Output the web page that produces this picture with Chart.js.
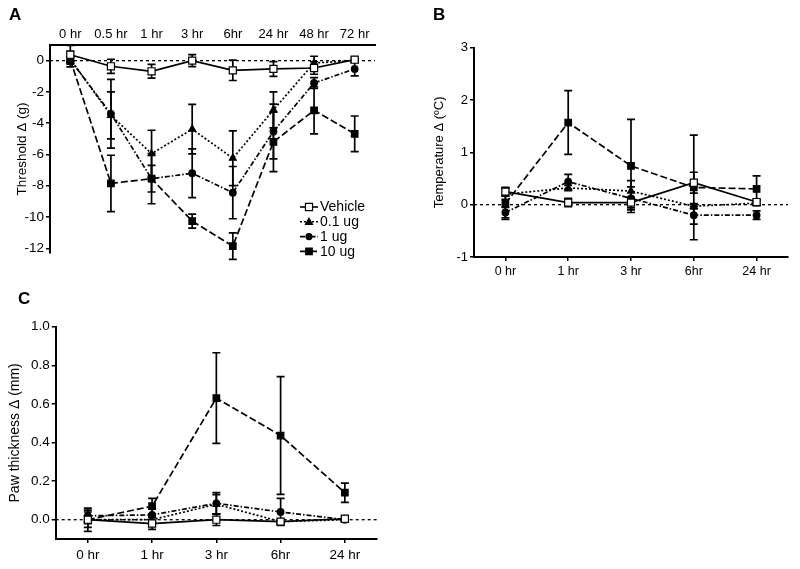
<!DOCTYPE html>
<html>
<head>
<meta charset="utf-8">
<script src="https://cdn.jsdelivr.net/npm/chart.js"></script>
<style>
  body { margin: 0; background: #fff; }
  #wrap { position: relative; width: 800px; height: 569px; font-family: "Liberation Sans", Arial, sans-serif; }
  canvas { position: absolute; }
  .tag { position: absolute; font-weight: bold; font-size: 17px; }
</style>
</head>
<body>
<div id="wrap">
  <canvas id="chartA" width="400" height="280" style="left:0;top:0"></canvas>
  <canvas id="chartB" width="400" height="280" style="left:400px;top:0"></canvas>
  <canvas id="chartC" width="400" height="289" style="left:0;top:280px"></canvas>
  <div class="tag" style="left:9px;top:5px">A</div>
  <div class="tag" style="left:433px;top:5px">B</div>
  <div class="tag" style="left:18px;top:289px">C</div>
</div>
<script>
// dati
const groups = ["Vehicle", "0.1 ug", "1 ug", "10 ug"];
const timesA = ["0 hr", "0.5 hr", "1 hr", "3 hr", "6hr", "24 hr", "48 hr", "72 hr"];
const timesBC = ["0 hr", "1 hr", "3 hr", "6hr", "24 hr"];

// A - soglia
const vehicleA = [0.38, -0.36, -0.68, 0.0, -0.62, -0.53, -0.47, 0.06];
const vehicleAErr = [0.6, 0.45, 0.44, 0.38, 0.65, 0.47, 0.4, 0.15];
const lowA = [0.1, -3.5, -5.95, -4.38, -6.24, -3.15, -0.15, 0.0];
const lowAErr = [0.5, 1.5, 1.5, 1.58, 1.75, 1.15, 0.43, 0.1];
const midA = [0.05, -3.4, -7.55, -7.2, -8.44, -4.53, -1.43, -0.53];
const midAErr = [0.2, 2.2, 0.85, 1.56, 1.67, 1.75, 0.35, 0.45];
const highA = [0.05, -7.85, -7.55, -10.26, -11.86, -5.2, -3.18, -4.68];
const highAErr = [0.15, 1.8, 1.6, 0.45, 0.85, 1.9, 1.5, 1.14];
const ticksA = [0, -2, -4, -6, -8, -10, -12];

// B - temperatura
const vehicleB = [0.25, 0.04, 0.04, 0.42, 0.05];
const vehicleBErr = [0.08, 0.08, 0.1, 0.2, 0.05];
const lowB = [0.2, 0.32, 0.26, -0.03, 0.03];
const lowBErr = [0.1, 0.05, 0.2, 0.05, 0.05];
const midB = [-0.15, 0.44, 0.12, -0.2, -0.2];
const midBErr = [0.1, 0.14, 0.22, 0.17, 0.08];
const highB = [0.02, 1.57, 0.74, 0.33, 0.3];
const highBErr = [0.3, 0.61, 0.89, 1.0, 0.25];
const ticksB = [-1, 0, 1, 2, 3];

// C - spessore zampa
const vehicleC = [0.0, -0.02, 0.0, -0.01, 0.005];
const vehicleCErr = [0.06, 0.03, 0.03, 0.01, 0.015];
const lowC = [0.0, 0.0, 0.08, -0.01, 0.0];
const lowCErr = [0.04, 0.02, 0.05, 0.01, 0.01];
const midC = [0.02, 0.025, 0.085, 0.04, 0.0];
const midCErr = [0.03, 0.03, 0.055, 0.07, 0.01];
const highC = [0.0, 0.07, 0.63, 0.436, 0.14];
const highCErr = [0.02, 0.04, 0.235, 0.305, 0.05];
const ticksC = [0, 0.2, 0.4, 0.6, 0.8, 1.0];

const FONT = '"Liberation Sans", Arial, sans-serif';

// stile di ogni gruppo
const styles = [
  { dash: [], point: "rect", fill: "#fff", r: 5 },
  { dash: [2, 2], point: "triangle", fill: "#000", r: 4 },
  { dash: [5, 2, 1.5, 2], point: "circle", fill: "#000", r: 3.3 },
  { dash: [7, 3], point: "rect", fill: "#000", r: 4.6 },
];

// barre di errore (sotto i punti)
const errorBars = {
  id: "errorBars",
  beforeDatasetsDraw(chart) {
    const ctx = chart.ctx;
    const y = chart.scales.y;
    // linea tratteggiata sullo zero
    const y0 = y.getPixelForValue(0);
    ctx.save();
    ctx.strokeStyle = "#000";
    ctx.lineWidth = 1.3;
    ctx.setLineDash([3, 3]);
    ctx.beginPath();
    ctx.moveTo(chart.chartArea.left, y0);
    ctx.lineTo(chart.chartArea.right, y0);
    ctx.stroke();
    ctx.setLineDash([]);
    ctx.lineWidth = 1.7;
    chart.data.datasets.forEach((ds, i) => {
      const meta = chart.getDatasetMeta(i);
      meta.data.forEach((pt, j) => {
        const v = ds.data[j];
        const e = ds.err[j];
        const top = y.getPixelForValue(v + e);
        const bot = y.getPixelForValue(v - e);
        ctx.beginPath();
        ctx.moveTo(pt.x, top);
        ctx.lineTo(pt.x, bot);
        ctx.moveTo(pt.x - 4, top);
        ctx.lineTo(pt.x + 4, top);
        ctx.moveTo(pt.x - 4, bot);
        ctx.lineTo(pt.x + 4, bot);
        ctx.stroke();
      });
    });
    ctx.restore();
  },
};

// legenda del pannello A
const legendA = {
  id: "legendA",
  afterDraw(chart) {
    const ctx = chart.ctx;
    ctx.save();
    chart.data.datasets.forEach((ds, i) => {
      const st = styles[i];
      const yy = 207 + i * 14.8;
      ctx.strokeStyle = "#000";
      ctx.lineWidth = 1.6;
      ctx.setLineDash(st.dash);
      ctx.beginPath();
      ctx.moveTo(300, yy);
      ctx.lineTo(318, yy);
      ctx.stroke();
      ctx.setLineDash([]);
      ctx.fillStyle = st.fill;
      ctx.lineWidth = 1.2;
      ctx.beginPath();
      if (st.point === "rect") {
        const s = st.r * Math.SQRT1_2;
        ctx.rect(309 - s, yy - s, 2 * s, 2 * s);
      } else if (st.point === "triangle") {
        ctx.moveTo(309, yy - 3.5);
        ctx.lineTo(312.5, yy + 2.5);
        ctx.lineTo(305.5, yy + 2.5);
        ctx.closePath();
      } else {
        ctx.arc(309, yy, 3, 0, Math.PI * 2);
      }
      ctx.fill();
      ctx.stroke();
      ctx.fillStyle = "#000";
      ctx.font = "14px " + FONT;
      ctx.textBaseline = "middle";
      ctx.fillText(ds.label, 320, yy + 0.5);
    });
    ctx.restore();
  },
};

function buildDatasets(series, errs) {
  return series.map((data, i) => ({
    label: groups[i],
    data: data,
    err: errs[i],
    borderColor: "#000",
    borderWidth: 1.7,
    borderDash: styles[i].dash,
    pointStyle: styles[i].point,
    pointRadius: styles[i].r,
    pointBackgroundColor: styles[i].fill,
    pointBorderColor: "#000",
    pointBorderWidth: 1.2,
    tension: 0,
    fill: false,
    clip: false,
  }));
}

function makeChart(id, labels, series, errs, o) {
  new Chart(document.getElementById(id), {
    type: "line",
    data: { labels: labels, datasets: buildDatasets(series, errs) },
    options: {
      responsive: false,
      animation: false,
      events: [],
      layout: { padding: o.padding },
      plugins: { legend: { display: false }, tooltip: { enabled: false } },
      scales: {
        x: {
          position: o.xPos,
          offset: true,
          grid: o.xTicks
            ? { display: true, drawOnChartArea: false, drawTicks: true, tickLength: 4, color: "#000", lineWidth: 1.5 }
            : { display: false, drawTicks: false },
          border: { display: true, color: "#000", width: 2 },
          ticks: { color: "#000", padding: o.xPad, font: { family: FONT, size: o.xSize }, maxRotation: 0, autoSkip: false },
          afterFit: (s) => { s.height = o.xHeight; },
        },
        y: {
          min: o.min,
          max: o.max,
          grid: { display: true, drawOnChartArea: false, drawTicks: true, tickLength: 4, color: "#000", lineWidth: 1.5 },
          border: { display: true, color: "#000", width: 2 },
          ticks: { color: "#000", padding: 2, font: { family: FONT, size: o.ySize }, callback: o.fmt },
          afterBuildTicks: (s) => { s.ticks = o.ticks.map((v) => ({ value: v })); },
          title: { display: true, text: o.title, color: "#000", font: { family: FONT, size: o.titleSize }, padding: { top: o.titlePad, bottom: 0 } },
          afterFit: (s) => { s.width = o.yWidth; },
        },
      },
    },
    plugins: o.legend ? [errorBars, legendA] : [errorBars],
  });
}

makeChart("chartA", timesA, [vehicleA, lowA, midA, highA], [vehicleAErr, lowAErr, midAErr, highAErr], {
  padding: { top: 0, left: 0, right: 25, bottom: 27 },
  xPos: "top", xTicks: false, xPad: 3, xHeight: 45,
  min: -12.3, max: 1.0, ticks: ticksA, fmt: (v) => String(v),
  title: "Threshold \u0394 (g)", titleSize: 13.5, titlePad: 14, yWidth: 50, xSize: 13, ySize: 13.5, legend: true,
});

makeChart("chartB", timesBC, [vehicleB, lowB, midB, highB], [vehicleBErr, lowBErr, midBErr, highBErr], {
  padding: { top: 47.7, left: 0, right: 12, bottom: 0 },
  xPos: "bottom", xTicks: true, xPad: 3, xHeight: 23,
  min: -1, max: 3, ticks: ticksB, fmt: (v) => String(v),
  title: "Temperature \u0394 (\u00baC)", titleSize: 13, titlePad: 32, yWidth: 74, xSize: 12.5, ySize: 13, legend: false,
});

makeChart("chartC", timesBC, [vehicleC, lowC, midC, highC], [vehicleCErr, lowCErr, midCErr, highCErr], {
  padding: { top: 46.7, left: 0, right: 23, bottom: 0 },
  xPos: "bottom", xTicks: true, xPad: 4, xHeight: 30,
  min: -0.1, max: 1.0, ticks: ticksC, fmt: (v) => v.toFixed(1),
  title: "Paw thickness \u0394 (mm)", titleSize: 14, titlePad: 7, yWidth: 55.7, xSize: 13.5, ySize: 13.5, legend: false,
});
</script>
</body>
</html>
